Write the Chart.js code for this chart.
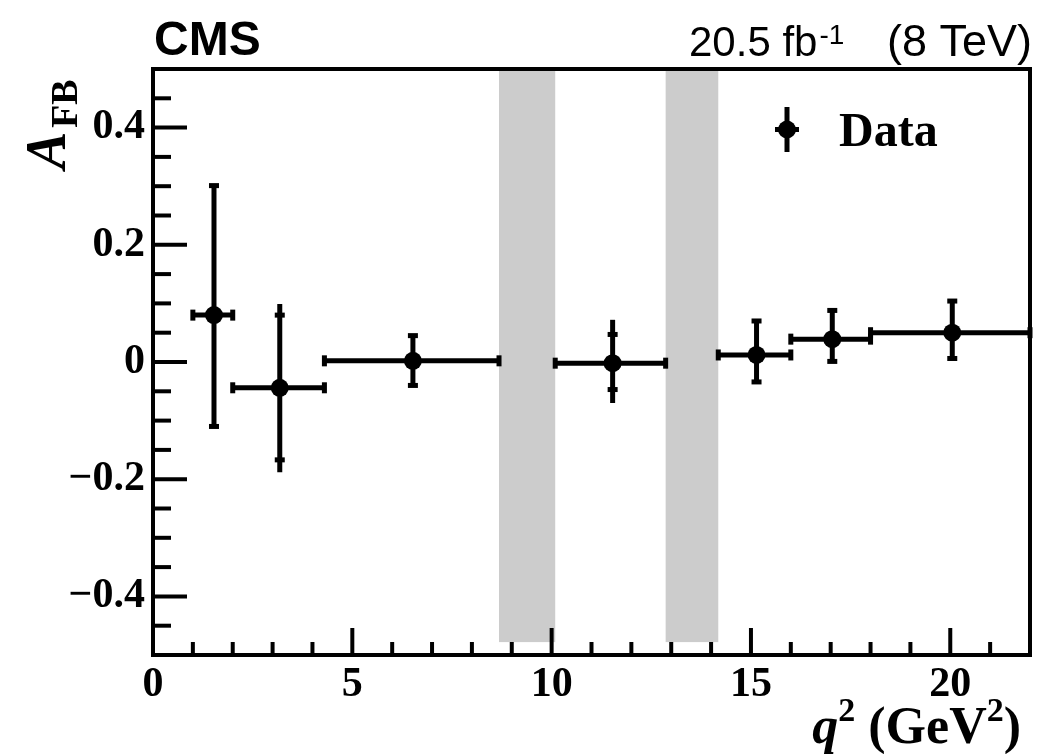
<!DOCTYPE html>
<html><head><meta charset="utf-8">
<script src="https://cdn.jsdelivr.net/npm/chart.js@4"></script>
<style>html,body{margin:0;padding:0;background:#fff;} canvas{display:block}</style>
</head><body>
<canvas id="c" width="1039" height="754"></canvas>
<script>
// ---- data ----
const q2Center = [1.53, 3.18, 6.52, 11.53, 15.14, 17.04, 20.05];
const q2Low    = [1.0, 2.0, 4.3, 10.09, 14.18, 16.0, 18.0];
const q2High   = [2.0, 4.3, 8.68, 12.86, 16.0, 18.0, 22.0];
const afb      = [0.080, -0.044, 0.002, -0.002, 0.012, 0.039, 0.050];
const statUp   = [0.221, 0.124, 0.043, 0.049, 0.058, 0.049, 0.054];
const statDown = [0.190, 0.123, 0.042, 0.045, 0.046, 0.038, 0.044];
const totUp    = [0.221, 0.143, 0.043, 0.074, 0.058, 0.049, 0.054];
const totDown  = [0.190, 0.144, 0.042, 0.068, 0.046, 0.038, 0.044];
const vetoLow  = [8.68, 12.86];
const vetoHigh = [10.09, 14.18];
const vetoTop = 0.5, vetoBottom = -0.478;
const xTickValues = [0, 5, 10, 15, 20];
const yTickValues = [-0.4, -0.2, 0, 0.2, 0.4];
const xMinorStep = 1, yMinorStep = 0.05;

const points = q2Center.map((x, i) => ({x: x, y: afb[i]}));

const bandsPlugin = {
  id: 'bands',
  beforeDatasetsDraw(chart) {
    const {ctx, scales: {x, y}} = chart;
    ctx.save();
    ctx.fillStyle = '#cccccc';
    for (let i = 0; i < vetoLow.length; i++) {
      const x1 = x.getPixelForValue(vetoLow[i]), x2 = x.getPixelForValue(vetoHigh[i]);
      const y1 = y.getPixelForValue(vetoTop), y2 = y.getPixelForValue(vetoBottom);
      ctx.fillRect(x1, y1, x2 - x1, y2 - y1);
    }
    ctx.restore();
  }
};

const errPlugin = {
  id: 'errs',
  beforeDatasetsDraw(chart) {
    const {ctx, scales: {x, y}} = chart;
    ctx.save();
    ctx.strokeStyle = '#000';
    ctx.fillStyle = '#000';
    ctx.lineCap = 'butt';
    for (let i = 0; i < afb.length; i++) {
      const px = x.getPixelForValue(q2Center[i]);
      const py = y.getPixelForValue(afb[i]);
      const xl = x.getPixelForValue(q2Low[i]), xh = x.getPixelForValue(q2High[i]);
      const yt = y.getPixelForValue(afb[i] + totUp[i]), yb = y.getPixelForValue(afb[i] - totDown[i]);
      const st = y.getPixelForValue(afb[i] + statUp[i]), sb = y.getPixelForValue(afb[i] - statDown[i]);
      ctx.lineWidth = 5;
      ctx.beginPath(); ctx.moveTo(px, yt); ctx.lineTo(px, yb); ctx.stroke();
      ctx.beginPath(); ctx.moveTo(xl, py); ctx.lineTo(xh, py); ctx.stroke();
      ctx.fillRect(px - 5, st - 2.5, 10, 5);
      ctx.fillRect(px - 5, sb - 2.5, 10, 5);
      ctx.fillRect(xl - 2.5, py - 5.5, 5, 11);
      ctx.fillRect(xh - 2.5, py - 5.5, 5, 11);
    }
    ctx.restore();
  }
};

const framePlugin = {
  id: 'frame',
  afterDraw(chart) {
    const {ctx, chartArea: a, scales: {x, y}} = chart;
    ctx.save();
    ctx.strokeStyle = '#000';
    ctx.lineWidth = 4;
    ctx.strokeRect(a.left, a.top, a.right - a.left, a.bottom - a.top);
    for (let v = -0.5; v <= 0.5001; v += yMinorStep) {
      const vv = Math.round(v * 100) / 100;
      const major = yTickValues.some(t => Math.abs(t - vv) < 1e-6);
      const py = y.getPixelForValue(vv);
      ctx.beginPath(); ctx.moveTo(a.left, py); ctx.lineTo(a.left + (major ? 34 : 18), py); ctx.stroke();
    }
    for (let v = 0; v <= 22; v += xMinorStep) {
      const major = xTickValues.includes(v);
      const px = x.getPixelForValue(v);
      ctx.beginPath(); ctx.moveTo(px, a.bottom); ctx.lineTo(px, a.bottom - (major ? 27 : 13)); ctx.stroke();
    }
    ctx.restore();

    ctx.save();
    ctx.fillStyle = '#000';
    ctx.textBaseline = 'alphabetic';
    ctx.textAlign = 'left';
    // CMS
    ctx.font = 'bold 48px "Liberation Sans"';
    ctx.fillText('CMS', 154, 55);
    // lumi
    ctx.font = '42px "Liberation Sans"';
    ctx.fillText('20.5 fb', 689, 56);
    const w1 = ctx.measureText('20.5 fb').width;
    ctx.font = '28px "Liberation Sans"';
    ctx.fillText('-1', 689 + w1 + 2, 44);
    ctx.font = '45px "Liberation Sans"';
    ctx.textAlign = 'right';
    ctx.fillText('(8 TeV)', 1032, 56);
    ctx.textAlign = 'left';

    // x title
    const fq = 'bold italic 52px "Liberation Serif"', fb = 'bold 52px "Liberation Serif"', fs = 'bold 34px "Liberation Serif"';
    const parts = [[fq, 'q', 0], [fs, '2', -22], [fb, ' (GeV', 0], [fs, '2', -22], [fb, ')', 0]];
    let tw = 0;
    parts.forEach(p => { ctx.font = p[0]; tw += ctx.measureText(p[1]).width; });
    let cx = 1021 - tw;
    parts.forEach(p => { ctx.font = p[0]; ctx.fillText(p[1], cx, 743 + p[2]); cx += ctx.measureText(p[1]).width; });

    // y title
    ctx.save();
    ctx.translate(65, 169);
    ctx.rotate(-Math.PI / 2);
    ctx.font = 'bold italic 56px "Liberation Serif"';
    ctx.fillText('A', 0, 0);
    ctx.font = 'bold 38px "Liberation Serif"';
    ctx.fillText('FB', 41, 12);
    ctx.restore();

    // legend
    ctx.strokeStyle = '#000';
    ctx.lineWidth = 5;
    ctx.beginPath(); ctx.moveTo(787, 107); ctx.lineTo(787, 152); ctx.stroke();
    ctx.beginPath(); ctx.moveTo(775, 129.5); ctx.lineTo(799, 129.5); ctx.stroke();
    ctx.beginPath(); ctx.arc(787, 129.5, 9, 0, Math.PI * 2); ctx.fill();
    ctx.font = 'bold 48px "Liberation Serif"';
    ctx.fillText('Data', 839, 146);
    ctx.restore();
  }
};

function fmtY(v) {
  if (Math.abs(v) < 1e-9) return '0';
  const s = Math.abs(v).toFixed(1);
  return v < 0 ? '\u2212' + s : s;
}

new Chart(document.getElementById('c'), {
  type: 'scatter',
  data: {
    datasets: [{
      label: 'Data',
      data: points,
      backgroundColor: '#000',
      borderColor: '#000',
      pointRadius: 9,
      pointHoverRadius: 9,
      borderWidth: 0
    }]
  },
  options: {
    responsive: false,
    animation: false,
    devicePixelRatio: 1,
    layout: {padding: {left: 0, top: 69, right: 8, bottom: 0}},
    plugins: {legend: {display: false}, tooltip: {enabled: false}},
    scales: {
      x: {
        type: 'linear', min: 0, max: 22,
        afterBuildTicks: s => { s.ticks = xTickValues.map(v => ({value: v})); },
        afterFit: s => { s.height = 99; },
        grid: {display: false, drawTicks: false},
        border: {display: false},
        ticks: {
          color: '#000', padding: 5, maxRotation: 0, autoSkip: false,
          font: {family: '"Liberation Serif"', weight: 'bold', size: 42},
          callback: v => String(v)
        }
      },
      y: {
        type: 'linear', min: -0.5, max: 0.5,
        afterBuildTicks: s => { s.ticks = yTickValues.map(v => ({value: v})); },
        afterFit: s => { s.width = 153; },
        grid: {display: false, drawTicks: false},
        border: {display: false},
        ticks: {
          color: '#000', padding: 8, autoSkip: false,
          font: {family: '"Liberation Serif"', weight: 'bold', size: 42},
          callback: v => fmtY(v)
        }
      }
    }
  },
  plugins: [bandsPlugin, errPlugin, framePlugin]
});
</script>
</body></html>
